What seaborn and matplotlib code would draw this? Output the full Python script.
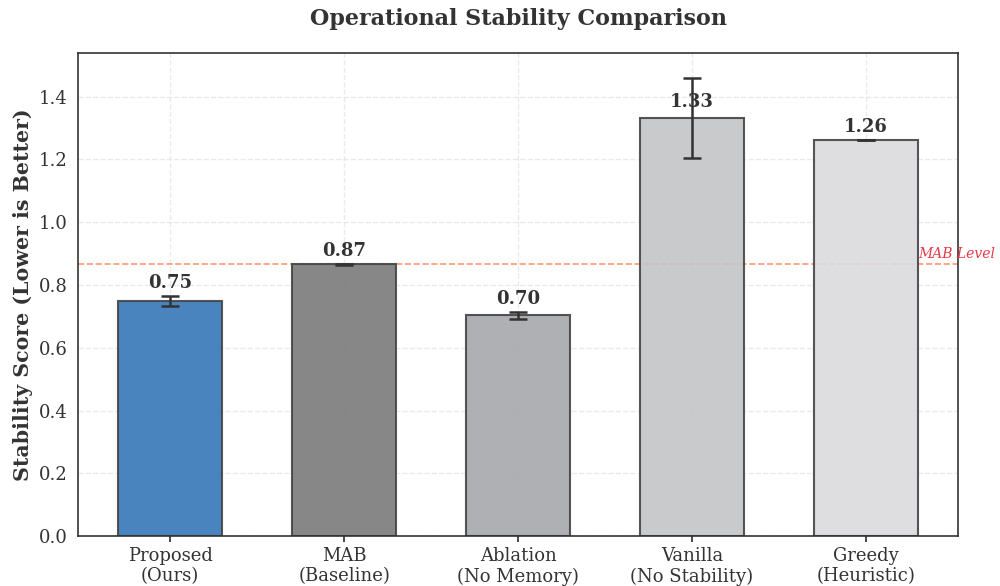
import numpy as np
import pandas as pd
import matplotlib
matplotlib.use("Agg")
import matplotlib.pyplot as plt
import seaborn as sns

# --- Data ---
methods = ["Proposed\n(Ours)", "MAB\n(Baseline)", "Ablation\n(No Memory)",
           "Vanilla\n(No Stability)", "Greedy\n(Heuristic)"]
scores = [0.750, 0.866, 0.703, 1.333, 1.262]
errors = [0.016, 0.002, 0.012, 0.127, 0.001]
colors = ["#3677B7", "#7A7A7A", "#A7A8AC", "#C4C5C7", "#DBDBDE"]
mab_level = 0.866

df = pd.DataFrame({"Method": methods, "Score": scores})

# --- Style ---
sns.set_theme(style="whitegrid")
plt.rcParams["font.family"] = ["DejaVu Serif"]
plt.rcParams["axes.edgecolor"] = "#333333"
plt.rcParams["axes.linewidth"] = 1.2

fig, ax = plt.subplots(figsize=(10, 5.86), dpi=100)

sns.barplot(data=df, x="Method", y="Score", hue="Method", palette=colors,
            saturation=1, width=0.6, edgecolor="#444444", linewidth=1.5,
            alpha=0.9, legend=False, ax=ax, zorder=2)

ax.errorbar(np.arange(len(methods)), scores, yerr=errors, fmt="none",
            ecolor="#333333", elinewidth=1.8, capsize=6.5, capthick=1.8, zorder=4)

# value labels
for i, (s, e) in enumerate(zip(scores, errors)):
    y = s + e + 0.012 if e < 0.05 else s + 0.02
    ax.text(i, y, f"{s:.2f}", ha="center", va="bottom", fontsize=13,
            fontweight="bold", color="#333333", zorder=5)

# reference line
ax.axhline(mab_level, color="#FF7F50", linestyle="--", linewidth=1.2,
           alpha=0.8, zorder=1)
ax.text(len(methods) - 0.7, mab_level + 0.01, "MAB Level", color="#E63946",
        fontsize=10, fontstyle="italic", ha="left", va="bottom")

ax.set_ylim(0, 1.54)
ax.set_xlim(-0.53, len(methods) - 0.47)
ax.set_xlabel("")
ax.set_ylabel("Stability Score (Lower is Better)", fontsize=14.8,
              fontweight="bold", color="#333333")
ax.set_title("Operational Stability Comparison", fontsize=16,
             fontweight="bold", color="#333333", pad=20)
ax.tick_params(axis="both", labelsize=13, colors="#333333", length=4)
ax.tick_params(axis="x", bottom=True)
ax.grid(True, linestyle="--", alpha=0.6, color="#DDDDDD")
ax.set_axisbelow(True)
for sp in ax.spines.values():
    sp.set_visible(True)
    sp.set_color("#333333")

fig.subplots_adjust(left=0.078, right=0.958, top=0.91, bottom=0.085)
fig.savefig("out.png", dpi=100)
